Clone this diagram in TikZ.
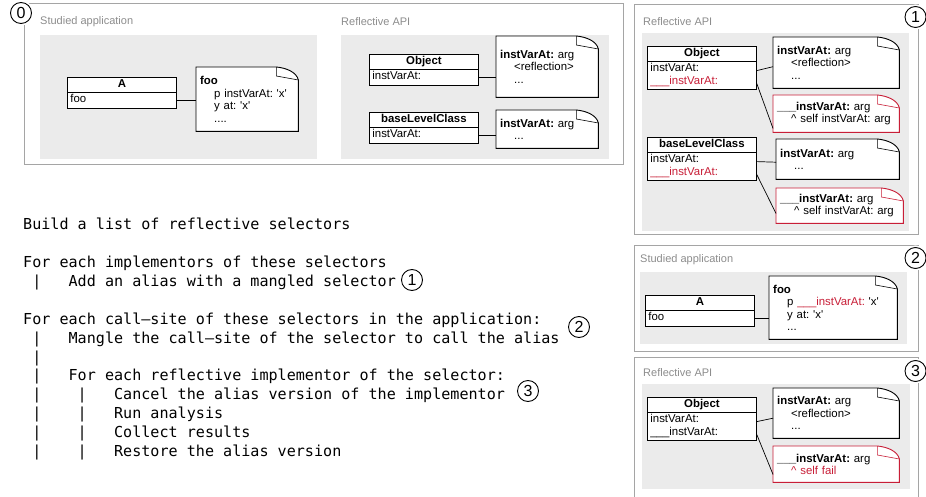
\documentclass[tikz,border=0pt]{standalone}
\usepackage{fontspec}
\setmainfont{Liberation Sans}
\setmonofont{DejaVu Sans Mono}
\usetikzlibrary{shapes.multipart}

\definecolor{framegray}{RGB}{165,165,165}
\definecolor{labelgray}{RGB}{140,140,140}
\definecolor{panelgray}{RGB}{235,235,235}
\definecolor{reflred}{RGB}{200,30,55}

\newcommand{\boxfont}{\fontsize{11.4}{12.5}\selectfont}
\newcommand{\codefont}{\ttfamily\fontsize{15.1}{18.9}\selectfont}
\newcommand{\bl}{\hphantom{0}}
\newcommand{\mang}{\_\_\_instVarAt:}
\newcommand{\quo}{\textquotesingle}
\newcommand{\ind}{\hspace*{14pt}}

\pgfdeclarelayer{back}
\pgfdeclarelayer{paper}
\pgfsetlayers{back,paper,main}

% dog-eared outline of a note, drawn behind its text
\newcommand{\noteframe}[2][black]{%
  \begin{pgfonlayer}{paper}
    \draw[#1, fill=white, line width=0.9pt] (#2.south west) -- (#2.north west) -- ([xshift=-22pt]#2.north east)
      .. controls ([xshift=-12pt,yshift=-1pt]#2.north east) and ([xshift=-2pt,yshift=-5pt]#2.north east) .. ([yshift=-13pt]#2.north east)
      -- (#2.south east) -- cycle;
    \draw[#1, line width=0.6pt] ([xshift=-22pt]#2.north east) -- ([xshift=-22pt,yshift=-9pt]#2.north east) -- ([yshift=-13pt]#2.north east);
  \end{pgfonlayer}}

\begin{document}
\frenchspacing
\begin{tikzpicture}[x=1pt, y=-1pt,
  classbox/.style={anchor=north west, draw, line width=0.8pt, fill=white, rectangle split, rectangle split parts=2,
    rectangle split part align={center,left}, minimum width=109pt, inner xsep=3pt, inner ysep=1pt, align=left, font=\boxfont},
  notebox/.style 2 args={anchor=north west, text width=#1, minimum height=#2, inner xsep=4pt, inner ysep=0pt, align=left, font=\boxfont},
  stageframe/.style={draw=framegray, line width=1pt},
  stagepanel/.style={fill=panelgray},
  stagetitle/.style={anchor=west, text=labelgray, font=\fontsize{11}{12}\selectfont, inner sep=0pt, text height=8pt, text depth=2pt},
  stepnum/.style={circle, draw, fill=white, line width=0.9pt, minimum size=21pt, inner sep=0pt, font=\fontsize{16}{16}\selectfont,
    preaction={draw=white, line width=4pt}},
  link/.style={line width=0.7pt},
  codetext/.style={anchor=north west, align=left, inner sep=0pt, font=\codefont}]

\useasboundingbox (0,0) rectangle (926,497);

% frames and grey panels
\begin{pgfonlayer}{back}
  \draw[stageframe] (24,4) rectangle (623,165);
  \draw[stageframe] (634,5) rectangle (918,234);
  \draw[stageframe] (634,245) rectangle (918,351);
  \draw[stageframe] (634,505) -- (634,357) -- (918,357) -- (918,505);
  \fill[stagepanel] (40,35) rectangle (317,159);
  \fill[stagepanel] (341,35) rectangle (609,159);
  \fill[stagepanel] (642,33) rectangle (909,231);
  \fill[stagepanel] (640,272) rectangle (907,344);
  \fill[stagepanel] (642,384) rectangle (910,489);
\end{pgfonlayer}

\node[stagetitle] (t0a) at (40,22) {Studied application};
\node[stagetitle] (t0b) at (341,23) {Reflective API};
\node[stagetitle] (t1) at (643,23) {Reflective API};
\node[stagetitle] (t2) at (640,259) {Studied application};
\node[stagetitle] (t3) at (643,373) {Reflective API};

% step 0: studied application
\node[classbox] (a0) at (67,77) {\strut\textbf{A}\nodepart{two}\strut foo};
\node[notebox={94pt}{64pt}] (foo0) at (196,67) {\textbf{foo}\\\ind p instVarAt: \quo x\quo\\\ind y at: \quo x\quo\\\ind ....};
\noteframe{foo0}
\draw[link] (a0.two east) -- (a0.two east -| foo0.west);

% step 0: reflective API
\node[classbox] (obj0) at (369,54) {\strut\textbf{Object}\nodepart{two}\strut instVarAt:};
\node[notebox={94pt}{61pt}] (inst0) at (496,36) {\textbf{instVarAt:} arg\\\ind\textless reflection\textgreater\\\ind ...};
\noteframe{inst0}
\draw[link] (obj0.two east) -- (obj0.two east -| inst0.west);

\node[classbox] (base0) at (369,112) {\strut\textbf{baseLevelClass}\nodepart{two}\strut instVarAt:};
\node[notebox={94pt}{38pt}] (binst0) at (496,110) {\textbf{instVarAt:} arg\\\ind ...};
\noteframe{binst0}
\draw[link] (base0.two east) -- (base0.two east -| binst0.west);

% step 1: aliases added
\node[classbox] (obj1) at (647,46) {\strut\textbf{Object}\nodepart{two}\strut instVarAt:\\\strut\textcolor{reflred}{\mang}};
\node[notebox={118pt}{51pt}] (inst1) at (773,37) {\textbf{instVarAt:} arg\\\ind\textless reflection\textgreater\\\ind ...};
\noteframe{inst1}
\node[notebox={118pt}{37pt}] (alias1) at (773,95) {\textbf{\mang} arg\\\ind\textasciicircum{} self instVarAt: arg};
\noteframe[reflred]{alias1}
\draw[link] ([yshift=5pt]obj1.two east) -- ([yshift=-4pt]inst1.west);
\draw[link] ([yshift=-8pt]obj1.two east) -- ([yshift=4pt]alias1.south west);

\node[classbox] (base1) at (647,137) {\strut\textbf{baseLevelClass}\nodepart{two}\strut instVarAt:\\\strut\textcolor{reflred}{\mang}};
\node[notebox={115pt}{40pt}] (binst1) at (776,139) {\textbf{instVarAt:} arg\\\ind ...};
\noteframe{binst1}
\node[notebox={119pt}{35pt}] (balias1) at (776,188) {\textbf{\mang} arg\\\ind\textasciicircum{} self instVarAt: arg};
\noteframe[reflred]{balias1}
\draw[link] ([yshift=5pt]base1.two east) -- ([yshift=-3pt]binst1.west);
\draw[link] ([yshift=-8pt]base1.two east) -- ([yshift=10pt]balias1.south west);

% step 2: mangled call-site
\node[classbox] (a2) at (645,295) {\strut\textbf{A}\nodepart{two}\strut foo};
\node[notebox={120pt}{63pt}] (foo2) at (769,276) {\textbf{foo}\\\ind p \textcolor{reflred}{\mang} \quo x\quo\\\ind y at: \quo x\quo\\\ind ...};
\noteframe{foo2}
\draw[link] (a2.two east) -- (a2.two east -| foo2.west);

% step 3: alias cancelled
\node[classbox] (obj3) at (647,397) {\strut\textbf{Object}\nodepart{two}\strut instVarAt:\\\strut\mang};
\node[notebox={118pt}{50pt}] (inst3) at (773,388) {\textbf{instVarAt:} arg\\\ind\textless reflection\textgreater\\\ind ...};
\noteframe{inst3}
\node[notebox={118pt}{36pt}] (alias3) at (773,446) {\textbf{\mang} arg\\\ind\textcolor{reflred}{\textasciicircum{} self fail}};
\noteframe[reflred]{alias3}
\draw[link] ([yshift=5pt]obj3.two east) -- ([yshift=-5pt]inst3.west);
\draw[link] ([yshift=-8pt]obj3.two east) -- ([yshift=8pt]alias3.south west);

% the algorithm
\node[codetext] (code) at (23,218) {Build a list of reflective selectors\\
\mbox{}\\
For each implementors of these selectors\\
\bl|\bl\bl\bl Add an alias with a mangled selector\\
\mbox{}\\
For each call–site of these selectors in the application:\\
\bl|\bl\bl\bl Mangle the call–site of the selector to call the alias\\
\bl|\\
\bl|\bl\bl\bl For each reflective implementor of the selector:\\
\bl|\bl\bl\bl\bl|\bl\bl\bl Cancel the alias version of the implementor\\
\bl|\bl\bl\bl\bl|\bl\bl\bl Run analysis\\
\bl|\bl\bl\bl\bl|\bl\bl\bl Collect results\\
\bl|\bl\bl\bl\bl|\bl\bl\bl Restore the alias version};

% step markers
\node[stepnum] (s0) at (21,13) {0};
\node[stepnum] (s1) at (915.5,17) {1};
\node[stepnum] (s2) at (915.5,258) {2};
\node[stepnum] (s3) at (915.5,371) {3};
\node[stepnum] (c1) at (412,280) {1};
\node[stepnum] (c2) at (579,327) {2};
\node[stepnum] (c3) at (528,391) {3};

\end{tikzpicture}
\end{document}
